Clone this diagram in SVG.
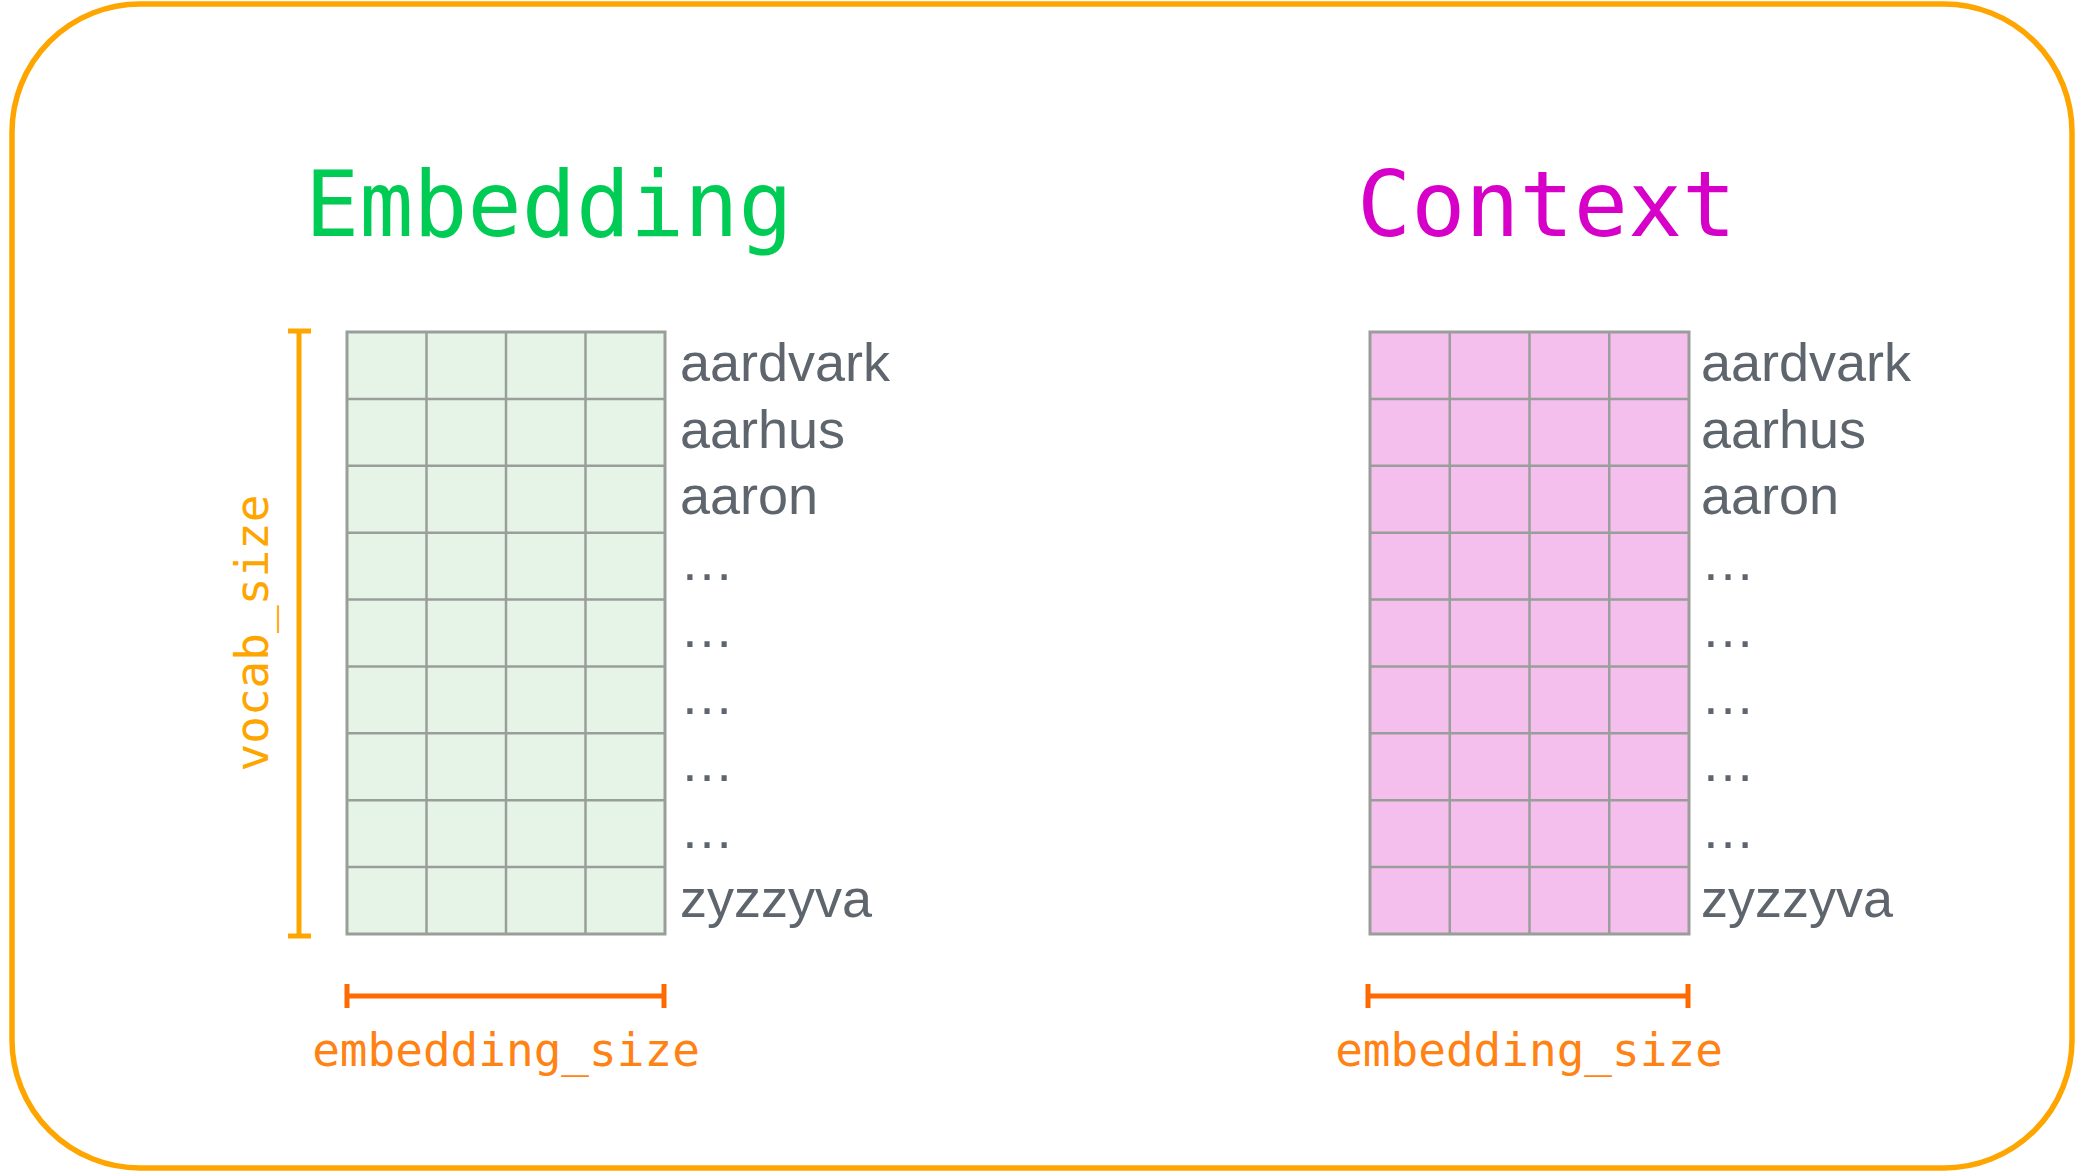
<svg xmlns="http://www.w3.org/2000/svg" width="2076" height="1172" viewBox="0 0 2076 1172">
<style>
.title{font-family:"DejaVu Sans Mono",monospace;font-size:90px}
.dim{font-family:"DejaVu Sans Mono",monospace;font-size:46px}
.lbl{font-family:"Liberation Sans",Arial,sans-serif;font-size:54px;fill:#5e656d}
.grid line{stroke:#9a9e9a;stroke-width:2.5}
.gframe{stroke:#9a9e9a;stroke-width:3}
.bar{stroke:#ffa500;stroke-width:5;fill:none}
.hbar{stroke:#ff6a00;stroke-width:5;fill:none}
</style>
<rect x="12" y="4" width="2060" height="1164" rx="128" ry="128" fill="#ffffff" stroke="#ffa500" stroke-width="5.5"/>

<g id="embedding">
<text class="title" x="305" y="236" fill="#00cc55">Embedding</text>
<g class="grid">
<rect class="gframe" x="347" y="332" width="318" height="602" fill="#e6f4e7"/>
<line x1="426.5" y1="332" x2="426.5" y2="934"/>
<line x1="506" y1="332" x2="506" y2="934"/>
<line x1="585.5" y1="332" x2="585.5" y2="934"/>
<line x1="347" y1="398.9" x2="665" y2="398.9"/>
<line x1="347" y1="465.8" x2="665" y2="465.8"/>
<line x1="347" y1="532.7" x2="665" y2="532.7"/>
<line x1="347" y1="599.6" x2="665" y2="599.6"/>
<line x1="347" y1="666.4" x2="665" y2="666.4"/>
<line x1="347" y1="733.3" x2="665" y2="733.3"/>
<line x1="347" y1="800.2" x2="665" y2="800.2"/>
<line x1="347" y1="867.1" x2="665" y2="867.1"/>
</g>
<text class="lbl" x="680" y="381">aardvark</text>
<text class="lbl" x="680" y="448">aarhus</text>
<text class="lbl" x="680" y="514">aaron</text>
<text class="lbl" x="680" y="580">…</text>
<text class="lbl" x="680" y="647">…</text>
<text class="lbl" x="680" y="714">…</text>
<text class="lbl" x="680" y="781">…</text>
<text class="lbl" x="680" y="848">…</text>
<text class="lbl" x="680" y="917">zyzzyva</text>
</g>

<g id="context">
<text class="title" x="1357" y="236" fill="#d600c8">Context</text>
<g class="grid">
<rect class="gframe" x="1370" y="332" width="319" height="602" fill="#f4bfec"/>
<line x1="1449.75" y1="332" x2="1449.75" y2="934"/>
<line x1="1529.5" y1="332" x2="1529.5" y2="934"/>
<line x1="1609.25" y1="332" x2="1609.25" y2="934"/>
<line x1="1370" y1="398.9" x2="1689" y2="398.9"/>
<line x1="1370" y1="465.8" x2="1689" y2="465.8"/>
<line x1="1370" y1="532.7" x2="1689" y2="532.7"/>
<line x1="1370" y1="599.6" x2="1689" y2="599.6"/>
<line x1="1370" y1="666.4" x2="1689" y2="666.4"/>
<line x1="1370" y1="733.3" x2="1689" y2="733.3"/>
<line x1="1370" y1="800.2" x2="1689" y2="800.2"/>
<line x1="1370" y1="867.1" x2="1689" y2="867.1"/>
</g>
<text class="lbl" x="1701" y="381">aardvark</text>
<text class="lbl" x="1701" y="448">aarhus</text>
<text class="lbl" x="1701" y="514">aaron</text>
<text class="lbl" x="1701" y="580">…</text>
<text class="lbl" x="1701" y="647">…</text>
<text class="lbl" x="1701" y="714">…</text>
<text class="lbl" x="1701" y="781">…</text>
<text class="lbl" x="1701" y="848">…</text>
<text class="lbl" x="1701" y="917">zyzzyva</text>
</g>

<g id="vocab-dimension">
<path class="bar" d="M299 331 V936 M288 331 H311 M288 936 H311"/>
<text class="dim" transform="translate(268 633) rotate(-90)" text-anchor="middle" fill="#ffa500">vocab_size</text>
</g>

<g id="embedding-dimension">
<path class="hbar" d="M347 996 H664 M347 984 V1008 M664 984 V1008"/>
<text class="dim" x="506" y="1066" text-anchor="middle" fill="#ff8214">embedding_size</text>
</g>

<g id="context-dimension">
<path class="hbar" d="M1368 996 H1688 M1368 984 V1008 M1688 984 V1008"/>
<text class="dim" x="1529" y="1066" text-anchor="middle" fill="#ff8214">embedding_size</text>
</g>
</svg>
